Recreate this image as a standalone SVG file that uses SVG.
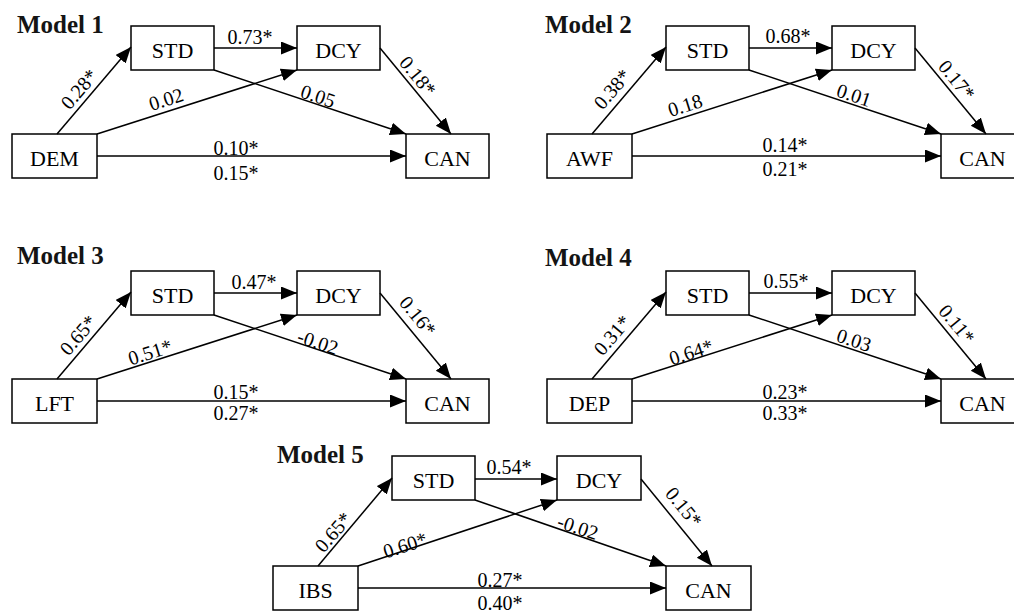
<svg xmlns="http://www.w3.org/2000/svg" width="1014" height="612" viewBox="0 0 1014 612">
<style>
  .box{fill:#fff;stroke:#000;stroke-width:1.5}
  .ntxt{font-family:"Liberation Serif","Times New Roman",serif;font-size:22px;fill:#000;text-anchor:middle}
  .title{font-family:"Liberation Serif","Times New Roman",serif;font-size:25px;font-weight:bold;fill:#141414}
  .edges line{stroke:#000;stroke-width:1.5;fill:none;marker-end:url(#arr)}
  .lbl{font-family:"Liberation Serif","Times New Roman",serif;font-size:20px;fill:#000;text-anchor:middle;dominant-baseline:central}
</style>
<defs>
  <marker id="arr" markerUnits="userSpaceOnUse" markerWidth="17" markerHeight="14" refX="16" refY="6.5" orient="auto">
    <path d="M0,0 L16,6.5 L0,13 Z" fill="#000"/>
  </marker>
</defs>
<rect width="1014" height="612" fill="#fff"/>

<!-- Model 1 -->
<g id="model1">
  <text class="title" x="17" y="33">Model 1</text>
  <g id="m1-std"><rect class="box" x="131" y="26" width="83" height="44"/><text class="ntxt" x="172.5" y="57.5">STD</text></g>
  <g id="m1-dcy"><rect class="box" x="297" y="26" width="83" height="44"/><text class="ntxt" x="338.5" y="57.5">DCY</text></g>
  <g id="m1-dem"><rect class="box" x="12" y="134" width="85" height="44"/><text class="ntxt" x="54.5" y="165.5">DEM</text></g>
  <g id="m1-can"><rect class="box" x="406" y="134" width="83" height="44"/><text class="ntxt" x="447.5" y="165.5">CAN</text></g>
  <g id="m1-connectors" class="edges">
    <line x1="214" y1="48" x2="297" y2="48"/>
    <line x1="57" y1="134" x2="131" y2="47"/>
    <line x1="97" y1="134" x2="297" y2="70"/>
    <line x1="214" y1="70" x2="406" y2="134"/>
    <line x1="380" y1="48" x2="451" y2="134"/>
    <line x1="97" y1="156" x2="406" y2="156"/>
    <text class="lbl" x="250" y="37">0.73*</text>
    <text class="lbl" transform="translate(79 89) rotate(-49.6)">0.28*</text>
    <text class="lbl" transform="translate(166 99) rotate(-17.7)">0.02</text>
    <text class="lbl" transform="translate(318 96) rotate(18.4)">0.05</text>
    <text class="lbl" transform="translate(418 76) rotate(50.5)">0.18*</text>
    <text class="lbl" x="236" y="148">0.10*</text>
    <text class="lbl" x="236" y="173">0.15*</text>
  </g>
</g>

<!-- Model 2 -->
<g id="model2" transform="translate(535 0)">
  <text class="title" x="10" y="33">Model 2</text>
  <g id="m2-std"><rect class="box" x="131" y="26" width="83" height="44"/><text class="ntxt" x="172.5" y="57.5">STD</text></g>
  <g id="m2-dcy"><rect class="box" x="297" y="26" width="83" height="44"/><text class="ntxt" x="338.5" y="57.5">DCY</text></g>
  <g id="m2-awf"><rect class="box" x="12" y="134" width="85" height="44"/><text class="ntxt" x="54.5" y="165.5">AWF</text></g>
  <g id="m2-can"><rect class="box" x="406" y="134" width="83" height="44"/><text class="ntxt" x="447.5" y="165.5">CAN</text></g>
  <g id="m2-connectors" class="edges">
    <line x1="214" y1="48" x2="297" y2="48"/>
    <line x1="57" y1="134" x2="131" y2="47"/>
    <line x1="97" y1="134" x2="297" y2="70"/>
    <line x1="214" y1="70" x2="406" y2="134"/>
    <line x1="380" y1="48" x2="451" y2="134"/>
    <line x1="97" y1="156" x2="406" y2="156"/>
    <text class="lbl" x="253" y="36">0.68*</text>
    <text class="lbl" transform="translate(77 89) rotate(-49.6)">0.38*</text>
    <text class="lbl" transform="translate(150 105) rotate(-17.7)">0.18</text>
    <text class="lbl" transform="translate(319 95) rotate(18.4)">0.01</text>
    <text class="lbl" transform="translate(422 80) rotate(50.5)">0.17*</text>
    <text class="lbl" x="250" y="145">0.14*</text>
    <text class="lbl" x="250" y="169">0.21*</text>
  </g>
</g>

<!-- Model 3 -->
<g id="model3" transform="translate(0 245)">
  <text class="title" x="17" y="19">Model 3</text>
  <g id="m3-std"><rect class="box" x="131" y="26" width="83" height="44"/><text class="ntxt" x="172.5" y="57.5">STD</text></g>
  <g id="m3-dcy"><rect class="box" x="297" y="26" width="83" height="44"/><text class="ntxt" x="338.5" y="57.5">DCY</text></g>
  <g id="m3-lft"><rect class="box" x="12" y="134" width="85" height="44"/><text class="ntxt" x="54.5" y="165.5">LFT</text></g>
  <g id="m3-can"><rect class="box" x="406" y="134" width="83" height="44"/><text class="ntxt" x="447.5" y="165.5">CAN</text></g>
  <g id="m3-connectors" class="edges">
    <line x1="214" y1="48" x2="297" y2="48"/>
    <line x1="57" y1="134" x2="131" y2="47"/>
    <line x1="97" y1="134" x2="297" y2="70"/>
    <line x1="214" y1="70" x2="406" y2="134"/>
    <line x1="380" y1="48" x2="451" y2="134"/>
    <line x1="97" y1="156" x2="406" y2="156"/>
    <text class="lbl" x="254" y="37">0.47*</text>
    <text class="lbl" transform="translate(78 90) rotate(-49.6)">0.65*</text>
    <text class="lbl" transform="translate(150 107) rotate(-17.7)">0.51*</text>
    <text class="lbl" transform="translate(318 97) rotate(18.4)">-0.02</text>
    <text class="lbl" transform="translate(418 71) rotate(50.5)">0.16*</text>
    <text class="lbl" x="236" y="147">0.15*</text>
    <text class="lbl" x="236" y="168">0.27*</text>
  </g>
</g>

<!-- Model 4 -->
<g id="model4" transform="translate(535 245)">
  <text class="title" x="10" y="21">Model 4</text>
  <g id="m4-std"><rect class="box" x="131" y="26" width="83" height="44"/><text class="ntxt" x="172.5" y="57.5">STD</text></g>
  <g id="m4-dcy"><rect class="box" x="297" y="26" width="83" height="44"/><text class="ntxt" x="338.5" y="57.5">DCY</text></g>
  <g id="m4-dep"><rect class="box" x="12" y="134" width="85" height="44"/><text class="ntxt" x="54.5" y="165.5">DEP</text></g>
  <g id="m4-can"><rect class="box" x="406" y="134" width="83" height="44"/><text class="ntxt" x="447.5" y="165.5">CAN</text></g>
  <g id="m4-connectors" class="edges">
    <line x1="214" y1="48" x2="297" y2="48"/>
    <line x1="57" y1="134" x2="131" y2="47"/>
    <line x1="97" y1="134" x2="297" y2="70"/>
    <line x1="214" y1="70" x2="406" y2="134"/>
    <line x1="380" y1="48" x2="451" y2="134"/>
    <line x1="97" y1="156" x2="406" y2="156"/>
    <text class="lbl" x="251" y="36">0.55*</text>
    <text class="lbl" transform="translate(77 90) rotate(-49.6)">0.31*</text>
    <text class="lbl" transform="translate(156 107) rotate(-17.7)">0.64*</text>
    <text class="lbl" transform="translate(319 95) rotate(18.4)">0.03</text>
    <text class="lbl" transform="translate(422 79) rotate(50.5)">0.11*</text>
    <text class="lbl" x="250" y="147">0.23*</text>
    <text class="lbl" x="250" y="168">0.33*</text>
  </g>
</g>

<!-- Model 5 -->
<g id="model5" transform="translate(261 431)">
  <text class="title" x="16" y="32">Model 5</text>
  <g id="m5-std"><rect class="box" x="131" y="25" width="83" height="44"/><text class="ntxt" x="172.5" y="56.5">STD</text></g>
  <g id="m5-dcy"><rect class="box" x="296" y="25" width="84" height="44"/><text class="ntxt" x="338" y="56.5">DCY</text></g>
  <g id="m5-ibs"><rect class="box" x="12" y="135" width="85" height="44"/><text class="ntxt" x="54.5" y="166.5">IBS</text></g>
  <g id="m5-can"><rect class="box" x="405" y="135" width="85" height="44"/><text class="ntxt" x="447.5" y="166.5">CAN</text></g>
  <g id="m5-connectors" class="edges">
    <line x1="214" y1="48" x2="296" y2="48"/>
    <line x1="57" y1="135" x2="131" y2="47"/>
    <line x1="97" y1="135" x2="296" y2="69"/>
    <line x1="214" y1="69" x2="405" y2="135"/>
    <line x1="380" y1="48" x2="451" y2="135"/>
    <line x1="97" y1="157" x2="405" y2="157"/>
    <text class="lbl" x="248" y="36">0.54*</text>
    <text class="lbl" transform="translate(72 101) rotate(-49.6)">0.65*</text>
    <text class="lbl" transform="translate(144 114) rotate(-17.7)">0.60*</text>
    <text class="lbl" transform="translate(317 96) rotate(18.4)">-0.02</text>
    <text class="lbl" transform="translate(423 76) rotate(50.5)">0.15*</text>
    <text class="lbl" x="239" y="149">0.27*</text>
    <text class="lbl" x="239" y="172">0.40*</text>
  </g>
</g>
</svg>
